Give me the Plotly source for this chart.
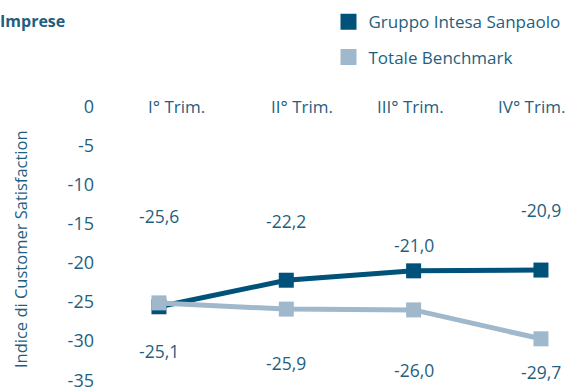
import plotly.graph_objects as go

# Quarterly customer satisfaction index (companies segment)
quarters = ["I° Trim.", "II° Trim.", "III° Trim.", "IV° Trim."]
intesa = [-25.6, -22.2, -21.0, -20.9]
benchmark = [-25.1, -25.9, -26.0, -29.7]
y_ticks = [0, -5, -10, -15, -20, -25, -30, -35]

DARK = "#00527a"
LIGHT = "#a0b8cc"
TEXT = "#1f5f80"
FONT = "Open Sans"

# pixel offsets for the value labels and the quarter labels
intesa_label_shift = [91, 59, 26, 60]
bench_label_shift = [-48, -54, -60, -33]
quarter_label_shift = [18, 16, -3, -9]


def fmt(v):
    return f"{v:.1f}".replace(".", ",")


fig = go.Figure()

fig.add_trace(go.Scatter(
    x=quarters, y=intesa, mode="lines+markers", showlegend=False,
    line=dict(color=DARK, width=5),
    marker=dict(symbol="square", size=15, color=DARK),
))
fig.add_trace(go.Scatter(
    x=quarters, y=benchmark, mode="lines+markers", showlegend=False,
    line=dict(color=LIGHT, width=5),
    marker=dict(symbol="square", size=15, color=LIGHT),
))

# legend entries: square swatches only
for name, col, grp in [("Gruppo Intesa Sanpaolo", DARK, "a"), ("Totale Benchmark", LIGHT, "b")]:
    fig.add_trace(go.Scatter(
        x=[None], y=[None], mode="markers", name=name, legendgroup=grp,
        marker=dict(symbol="square", size=16, color=col),
    ))

annotations = []
for q, v, s in zip(quarters, intesa, intesa_label_shift):
    annotations.append(dict(x=q, y=v, text=fmt(v), showarrow=False, yshift=s,
                            font=dict(size=17.5, color=TEXT, family=FONT)))
for q, v, s in zip(quarters, benchmark, bench_label_shift):
    annotations.append(dict(x=q, y=v, text=fmt(v), showarrow=False, yshift=s,
                            font=dict(size=17.5, color=TEXT, family=FONT)))
for q, s in zip(quarters, quarter_label_shift):
    annotations.append(dict(x=q, y=0, text=q, showarrow=False, xshift=s,
                            yanchor="middle",
                            font=dict(size=17, color=TEXT, family=FONT)))

annotations.append(dict(
    xref="paper", yref="paper", x=-0.175, y=0.48, text="Indice di Customer Satisfaction",
    textangle=-90, showarrow=False, xanchor="center", yanchor="middle",
    font=dict(size=16.5, color=TEXT, family=FONT),
))

fig.update_layout(
    width=567, height=392,
    margin=dict(l=100, r=10, t=106, b=11, autoexpand=False),
    paper_bgcolor="white", plot_bgcolor="white",
    font=dict(family=FONT, color=TEXT),
    title=dict(text="<b>Imprese</b>", x=0, xref="container", xanchor="left",
               y=1 - 21 / 392, yanchor="middle",
               font=dict(size=16, color=TEXT, family=FONT)),
    xaxis=dict(type="category", range=[-0.463, 3.126], showticklabels=False,
               showgrid=False, zeroline=False, showline=False, ticks="",
               automargin=False),
    yaxis=dict(range=[-35.1, 0.1], tickvals=y_ticks, ticktext=[str(t) for t in y_ticks],
               showgrid=False, zeroline=False, showline=False, ticks="",
               ticklabeloverflow="allow", automargin=False, ticklabelstandoff=5,
               tickfont=dict(size=18, color=TEXT, family=FONT)),
    legend=dict(x=0.50, y=1.37, xanchor="left", yanchor="top",
                traceorder="grouped", tracegroupgap=10,
                font=dict(size=17, color=TEXT, family=FONT),
                bgcolor="rgba(0,0,0,0)"),
    annotations=annotations,
)

fig.write_html("out.html")
